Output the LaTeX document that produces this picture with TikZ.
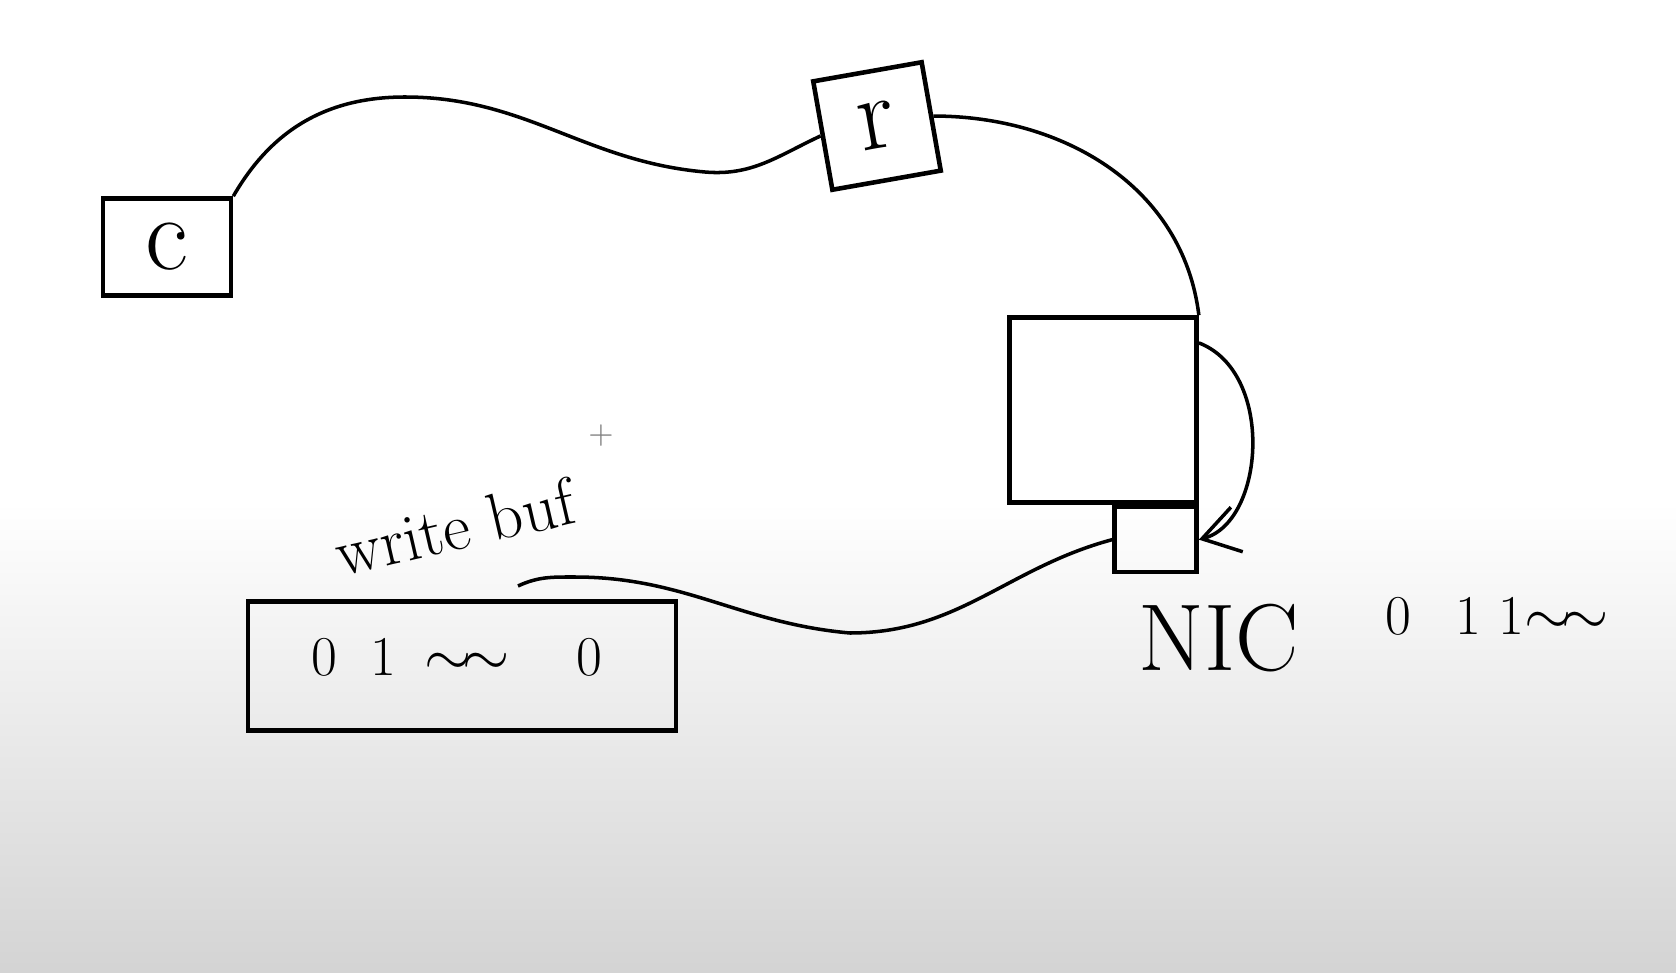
\documentclass[tikz,border=0pt]{standalone}
\usetikzlibrary{arrows.meta}

\begin{document}
\begin{tikzpicture}
[x=0.01cm, y=0.01cm,
box/.style={draw,line width=1.3pt,inner sep=0pt},
wire/.style={line width=1pt},
hand/.style={font=\fontsize{16}{18}\selectfont},
]

% background, lower part fades to grey
\useasboundingbox (0,0) rectangle (1676,972);
\shade[top color=white,bottom color=black!17] (0,0) rectangle (1676,470);

\node[box,minimum width=1.28cm,minimum height=0.97cm] (c) at (167,725) {\fontsize{30}{34}\selectfont c};
\node[box,minimum width=1.1cm,minimum height=1.1cm,rotate=10] (r) at (877,846) {\fontsize{30}{34}\selectfont r};
\node[box,minimum width=1.87cm,minimum height=1.85cm] (big) at (1103,562) {};
\node[box,minimum width=0.82cm,minimum height=0.65cm,anchor=north east] (nic) at (big.south east) {};
\node[box,minimum width=4.28cm,minimum height=1.29cm] (buf) at (462,306) {};

\node[hand] (bufbits) at (457,315) {0\hspace{0.6em}1\hspace{0.5em}$\sim\!\sim$\hspace{1.2em}0};
\node[hand,font=\fontsize{19}{21}\selectfont,rotate=13,inner sep=1pt] (wlabel) at (455,445) {write buf};
\node[font=\fontsize{27}{30}\selectfont] (niclabel) at (1219,334) {NIC};
\node[hand] (bits) at (1497,356) {0\hspace{0.8em}1\hspace{0.3em}1$\sim\!\sim$};
\node[gray,font=\small,inner sep=0pt] (cursor) at (601,536) {+};

\coordinate (bufend) at (518,386);

% wires
\draw[wire] (c.north east) to[out=60,in=180] (405,875) to[out=0,in=175] (705,800) to[out=-5,in=205] (r.west);
\draw[wire] (r.east) to[out=0,in=97] (big.north east);
\draw[wire,-{Straight Barb[length=3.6mm,width=4.6mm]}] (big.35) .. controls (1275,600) and (1265,450) .. (nic.east);
\draw[wire] (nic.west) to[out=195,in=0] (850,339) to[out=175,in=0] (575,395) to[out=180,in=25] (bufend);
\end{tikzpicture}
\end{document}
